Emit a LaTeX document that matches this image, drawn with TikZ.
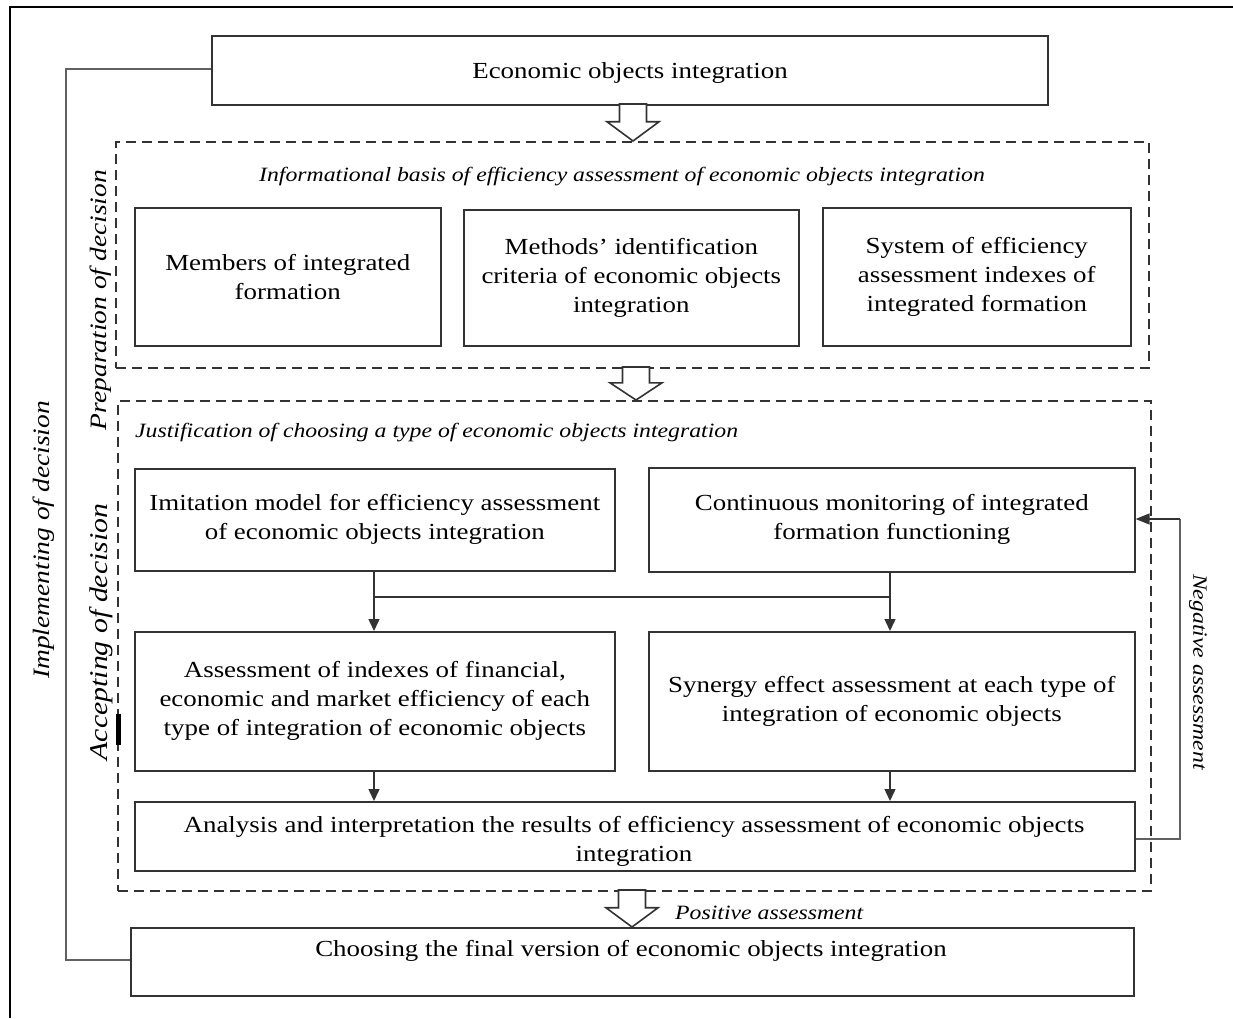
\documentclass[tikz,border=0pt]{standalone}
\usepackage{fontspec}
\setmainfont{Liberation Serif}[FakeStretch=1.17]
\usetikzlibrary{arrows.meta}
\definecolor{boxline}{gray}{0.2}
\definecolor{grayline}{gray}{0.38}
\tikzset{
  box/.style={draw=boxline, line width=1.6pt, anchor=north west, align=center, inner sep=0pt,
    font=\fontsize{23}{29}\selectfont},
  btext/.style={font=\fontsize{23}{29}\selectfont, align=center, inner sep=0pt},
  dbox/.style={draw=boxline, line width=1.7pt, dash pattern=on 10pt off 6pt, anchor=north west, inner sep=0pt},
  ital/.style={font=\fontsize{20.3}{24}\selectfont\itshape, inner sep=0pt},
  conn/.style={draw=boxline, line width=1.4pt},
  arr/.style={conn, -{Triangle[length=12pt,width=11pt]}},
  gline/.style={draw=grayline, line width=1.8pt},
  hollow/.style={draw=boxline, line width=1.6pt, fill=white},
}
\newcommand{\hollowarrow}[3]{% x, ytop, ybottom
  \draw[hollow] (#1-13.5,#2) -- (#1+13.5,#2) -- (#1+13.5,{#2+0.48*(#3-#2)}) -- (#1+26,{#2+0.48*(#3-#2)})
    -- (#1,#3) -- (#1-26,{#2+0.48*(#3-#2)}) -- (#1-13.5,{#2+0.48*(#3-#2)}) -- cycle;}
\begin{document}
\begin{tikzpicture}[x=1pt,y=-1pt]
\useasboundingbox (0,0) rectangle (1233,1018);
% frame
\draw[black, line width=2.5pt] (9,7) -- (1233,7);
\draw[black, line width=2.5pt] (10,7) -- (10,1018);

% top box
\node[box, minimum width=836pt, minimum height=69pt] (top) at (211,35) {};
\node[btext] (topt) at (630,73) {Economic objects integration};

% dashed box 1
\node[dbox, minimum width=1033pt, minimum height=226pt] (prep) at (115,141) {};
\node[ital] (prept) at (622,177) {Informational basis of efficiency assessment of economic objects integration};
\node[box, minimum width=306pt, minimum height=138pt] (bA) at (134,207) {Members of integrated\\formation};
\node[box, minimum width=335pt, minimum height=136pt] (bB) at (463,209) {Methods' identification\\criteria of economic objects\\integration};
\node[box, minimum width=308pt, minimum height=138pt] (bC) at (822,207) {System of efficiency\\assessment indexes of\\integrated formation};

% dashed box 2
\node[dbox, minimum width=1033pt, minimum height=490pt] (acc) at (117,400) {};
\node[ital, anchor=west] (acct) at (135,433) {Justification of choosing a type of economic objects integration};
\node[box, minimum width=480pt, minimum height=102pt] (bD) at (134,468) {Imitation model for efficiency assessment\\of economic objects integration};
\node[box, minimum width=486pt, minimum height=104pt] (bE) at (648,467) {Continuous monitoring of integrated\\formation functioning};
\node[box, minimum width=480pt, minimum height=139pt] (bF) at (134,631) {Assessment of indexes of financial,\\economic and market efficiency of each\\type of integration of economic objects};
\node[box, minimum width=486pt, minimum height=139pt] (bG) at (648,631) {Synergy effect assessment at each type of\\integration of economic objects};
\node[box, minimum width=1000pt, minimum height=69pt] (bH) at (134,801) {};
\node[btext, anchor=north] (bHt) at (634,816) {Analysis and interpretation the results of efficiency assessment of economic objects\\integration};

% bottom box
\node[box, minimum width=1003pt, minimum height=68pt] (bI) at (130,927) {};
\node[btext] (bIt) at (631,951) {Choosing the final version of economic objects integration};

% hollow arrows
\hollowarrow{633}{104}{141}
\hollowarrow{636}{367}{400}
\hollowarrow{632}{890}{927}
\node[ital, anchor=west] (pos) at (675,913) {Positive assessment};

% connectors between D/E and F/G
\coordinate (jl) at (374,597);
\coordinate (jr) at (890,597);
\draw[conn] (bD.south -| jl) -- (jl) -- (jr);
\draw[conn] (bE.south -| jr) -- (jr);
\draw[arr] (jl) -- (bF.north -| jl);
\draw[arr] (jr) -- (bG.north -| jr);
\draw[arr] (bF.south -| jl) -- (bH.north -| jl);
\draw[arr] (bG.south -| jr) -- (bH.north -| jr);

% negative assessment loop
\coordinate (n1) at (1180,839);
\coordinate (n2) at (1180,519);
\draw[gline] (bH.east |- n1) -- (n1) -- (n2);
\draw[conn, -{Triangle[length=14pt,width=11pt]}] (n2) -- (bE.east |- n2);
\node[ital, rotate=-90] (neg) at (1198,672) {Negative assessment};

% implementing loop
\coordinate (i1) at (66,69);
\coordinate (i2) at (66,960);
\draw[gline] (top.west |- i1) -- (i1) -- (i2) -- (bI.west |- i2);
\node[ital, rotate=90, font=\fontsize{23.5}{26}\selectfont\itshape] (impl) at (44,540) {Implementing of decision};

% side labels
\node[ital, rotate=90, font=\fontsize{23.5}{26}\selectfont\itshape] (prepl) at (101,300) {Preparation of decision};
\node[ital, rotate=90, font=\fontsize{25.5}{28}\selectfont\itshape] (accl) at (101,632) {Accepting of decision};
\fill[black] (116,714) rectangle (121,745);
\end{tikzpicture}
\end{document}
